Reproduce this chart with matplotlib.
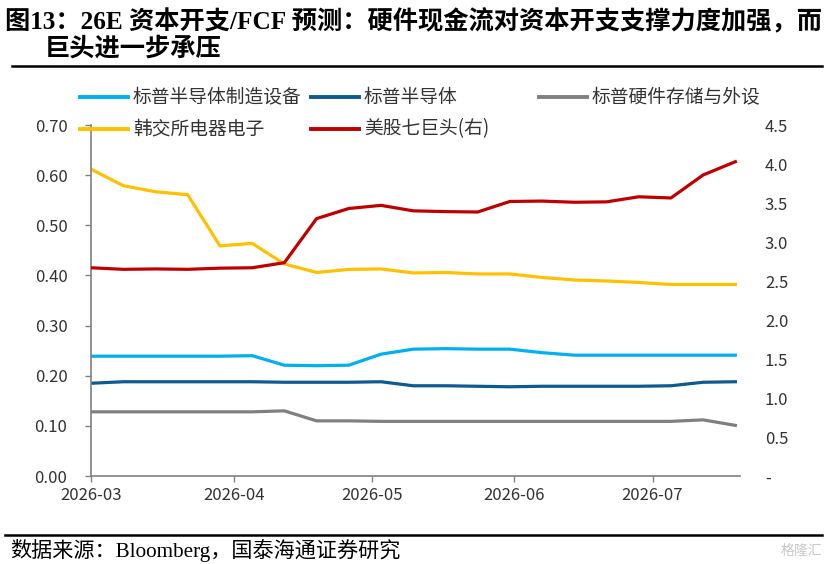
import numpy as np
import matplotlib
matplotlib.use("Agg")
import matplotlib.pyplot as plt
import matplotlib.dates as mdates
from matplotlib.lines import Line2D

plt.rcParams['font.family'] = ['Noto Sans CJK SC', 'DejaVu Sans']
serif_mix = ['Liberation Serif', 'Noto Sans CJK SC']

# weekly observations
dates = np.arange(np.datetime64('2026-03-01'), np.datetime64('2026-07-26'), np.timedelta64(7, 'D'))

semi_equip = [0.239, 0.239, 0.239, 0.239, 0.239, 0.240, 0.221, 0.220, 0.221, 0.243, 0.253,
              0.254, 0.253, 0.253, 0.246, 0.241, 0.241, 0.241, 0.241, 0.241, 0.241]
semi = [0.185, 0.188, 0.188, 0.188, 0.188, 0.188, 0.187, 0.187, 0.187, 0.188, 0.180,
        0.180, 0.179, 0.178, 0.179, 0.179, 0.179, 0.179, 0.180, 0.187, 0.188]
hardware = [0.128, 0.128, 0.128, 0.128, 0.128, 0.128, 0.130, 0.110, 0.110, 0.109, 0.109,
            0.109, 0.109, 0.109, 0.109, 0.109, 0.109, 0.109, 0.109, 0.112, 0.101]
korea = [0.612, 0.579, 0.567, 0.561, 0.459, 0.464, 0.423, 0.406, 0.412, 0.413, 0.405,
         0.406, 0.403, 0.403, 0.396, 0.391, 0.389, 0.386, 0.382, 0.382, 0.382]
mag7 = [2.67, 2.65, 2.655, 2.65, 2.665, 2.67, 2.735, 3.30, 3.43, 3.47, 3.40,
        3.39, 3.385, 3.52, 3.525, 3.51, 3.515, 3.58, 3.565, 3.86, 4.03]

names = ['标普半导体制造设备', '标普半导体', '标普硬件存储与外设', '韩交所电器电子', '美股七巨头(右)']
colors = ['#00B0F0', '#0B5A92', '#808080', '#FFC000', '#C00000']

left_ticks = [0.0, 0.1, 0.2, 0.3, 0.4, 0.5, 0.6, 0.7]
right_ticks = [0.0, 0.5, 1.0, 1.5, 2.0, 2.5, 3.0, 3.5, 4.0, 4.5]

fig = plt.figure(figsize=(8.29, 5.64), dpi=100)
ax = fig.add_axes([0.1098, 0.156, 0.7828, 0.6223])
ax2 = ax.twinx()

lw = 2.3
ax.plot(dates, semi_equip, color=colors[0], lw=lw)
ax.plot(dates, semi, color=colors[1], lw=lw)
ax.plot(dates, hardware, color=colors[2], lw=lw)
ax.plot(dates, korea, color=colors[3], lw=lw)
ax2.plot(dates, mag7, color=colors[4], lw=lw)

ax.set_ylim(0, 0.7)
ax.set_yticks(left_ticks)
ax.set_yticklabels(['%.2f' % t for t in left_ticks])
ax2.set_ylim(0, 4.5)
ax2.set_yticks(right_ticks)
ax2.set_yticklabels(['-' if t == 0 else '%.1f' % t for t in right_ticks])

ax.set_xlim(np.datetime64('2026-03-01'), np.datetime64('2026-07-20'))
ax.xaxis.set_major_locator(mdates.MonthLocator())
ax.xaxis.set_major_formatter(mdates.DateFormatter('%Y-%m'))

for s in ['top', 'right']:
    ax.spines[s].set_visible(False)
for s in ax2.spines.values():
    s.set_visible(False)
for s in ['left', 'bottom']:
    ax.spines[s].set_color('#808080')
    ax.spines[s].set_linewidth(1.2)

ax.tick_params(axis='y', length=4, width=1, color='#808080', pad=13, labelsize=12, labelcolor='#333333')
ax.tick_params(axis='x', length=4, width=1, color='#808080', pad=4, labelsize=12, labelcolor='#333333')
ax2.tick_params(axis='y', length=0, pad=18, labelsize=12, labelcolor='#333333')

# legend drawn by hand to keep the uneven column layout
leg_items = [(0, 80, 97), (1, 311, 97), (2, 539, 97), (3, 80, 129), (4, 311, 129)]
W, H = 829.0, 564.0
for i, x0, y0 in leg_items:
    fig.add_artist(Line2D([x0 / W, (x0 + 48) / W], [1 - y0 / H, 1 - y0 / H],
                          color=colors[i], lw=2.8, transform=fig.transFigure))
    fig.text((x0 + 53) / W, 1 - y0 / H, names[i], fontsize=13.5, color='#333333',
             va='center', ha='left')

# title, rules and source
fig.text(5 / W, 1 - 22 / H, '图13：26E 资本开支/FCF 预测：硬件现金流对资本开支支撑力度加强，而',
         fontsize=18.2, fontweight='bold', va='center', ha='left', color='black', family=serif_mix)
fig.text(45 / W, 1 - 49 / H, '巨头进一步承压', fontsize=18.2, fontweight='bold',
         va='center', ha='left', color='black', family=serif_mix)
fig.add_artist(Line2D([12 / W, 822 / W], [1 - 66 / H, 1 - 66 / H], color='black', lw=1.8,
                      transform=fig.transFigure))
fig.add_artist(Line2D([5 / W, 822 / W], [1 - 535 / H, 1 - 535 / H], color='black', lw=1.8,
                      transform=fig.transFigure))
fig.text(10 / W, 1 - 551 / H, '数据来源：Bloomberg，国泰海通证券研究', fontsize=15.2,
         va='center', ha='left', color='black', family=serif_mix)
fig.text(822 / W, 1 - 551 / H, '格隆汇', fontsize=10, va='center', ha='right', color='#c8c8c8')

fig.savefig('out.png', dpi=100)
